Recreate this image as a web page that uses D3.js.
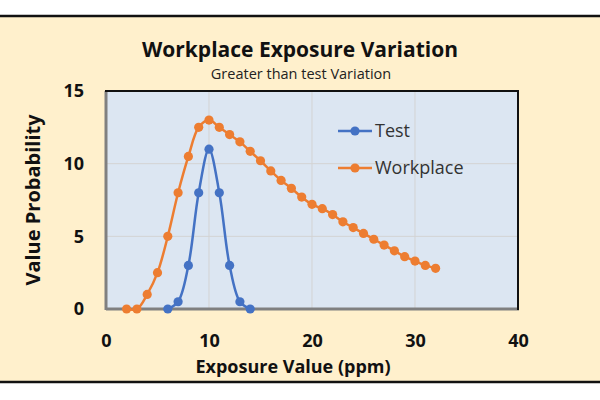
<!DOCTYPE html>
<html>
<head>
<meta charset="utf-8">
<script src="https://cdn.jsdelivr.net/npm/d3@7"></script>
<style>
  html, body { margin: 0; padding: 0; background: #fff; }
  svg { display: block; font-family: "Open Sans", "Noto Sans", sans-serif; }
</style>
</head>
<body>
<svg id="chart" width="600" height="400"></svg>
<script>
// data
const testX = [6, 7, 8, 9, 10, 11, 12, 13, 14];
const testY = [0, 0.5, 3, 8, 11, 8, 3, 0.5, 0];

const workX = [2, 3, 4, 5, 6, 7, 8, 9, 10, 11, 12, 13, 14, 15, 16, 17, 18, 19, 20,
  21, 22, 23, 24, 25, 26, 27, 28, 29, 30, 31, 32];
const workY = [0, 0, 1, 2.5, 5, 8, 10.5, 12.5, 13, 12.5, 12, 11.5, 10.85, 10.2, 9.5, 8.85,
  8.3, 7.7, 7.2, 6.9, 6.5, 6.0, 5.6, 5.2, 4.8, 4.4, 4.0, 3.6, 3.3, 3.0, 2.8];

const xTicks = [0, 10, 20, 30, 40];
const yTicks = [0, 5, 10, 15];

const seriesNames = ['Test', 'Workplace'];
const seriesColors = ['#4472C4', '#ED7D31'];

const svg = d3.select('#chart');

/* cream panel with black rules */
svg.append('rect').attr('x', 0).attr('y', 16).attr('width', 600).attr('height', 366).attr('fill', '#FFF0CC');
svg.append('line').attr('x1', 0).attr('x2', 600).attr('y1', 16).attr('y2', 16).attr('stroke', '#111').attr('stroke-width', 2.5);
svg.append('line').attr('x1', 0).attr('x2', 600).attr('y1', 382).attr('y2', 382).attr('stroke', '#111').attr('stroke-width', 2.5);

const plotLeft = 106, plotRight = 518, plotTop = 91, plotBottom = 309;

const x = d3.scaleLinear().domain([0, 40]).range([plotLeft, plotRight]);
const y = d3.scaleLinear().domain([0, 15]).range([plotBottom, plotTop]);

/* plot area */
svg.append('rect')
  .attr('x', plotLeft).attr('y', plotTop)
  .attr('width', plotRight - plotLeft).attr('height', plotBottom - plotTop)
  .attr('fill', '#DCE6F2');

/* gridlines */
svg.append('g')
  .selectAll('line')
  .data(xTicks.slice(1, -1))
  .join('line')
  .attr('x1', d => x(d)).attr('x2', d => x(d))
  .attr('y1', plotTop).attr('y2', plotBottom)
  .attr('stroke', '#D3D3D3').attr('stroke-width', 1);

svg.append('g')
  .selectAll('line')
  .data(yTicks.slice(1, -1))
  .join('line')
  .attr('x1', plotLeft).attr('x2', plotRight)
  .attr('y1', d => y(d)).attr('y2', d => y(d))
  .attr('stroke', '#D3D3D3').attr('stroke-width', 1);

/* frame: gray left/bottom, black top/right */
svg.append('line').attr('x1', plotLeft).attr('x2', plotLeft).attr('y1', plotTop).attr('y2', plotBottom + 1)
  .attr('stroke', '#808080').attr('stroke-width', 3);
svg.append('line').attr('x1', plotLeft).attr('x2', plotRight + 1).attr('y1', plotBottom).attr('y2', plotBottom)
  .attr('stroke', '#808080').attr('stroke-width', 3);
svg.append('line').attr('x1', plotLeft - 1).attr('x2', plotRight + 1).attr('y1', plotTop).attr('y2', plotTop)
  .attr('stroke', '#111').attr('stroke-width', 2);
svg.append('line').attr('x1', plotRight).attr('x2', plotRight).attr('y1', plotTop).attr('y2', plotBottom + 1)
  .attr('stroke', '#111').attr('stroke-width', 2);

/* axes */
const xAxis = d3.axisBottom(x).tickValues(xTicks).tickSize(0).tickPadding(25);
const yAxis = d3.axisLeft(y).tickValues(yTicks).tickSize(0).tickPadding(22);

const gx = svg.append('g').attr('transform', `translate(0,${plotBottom})`).call(xAxis);
const gy = svg.append('g').attr('transform', `translate(${plotLeft},0)`).call(yAxis);
[gx, gy].forEach(g => {
  g.select('.domain').remove();
  g.selectAll('text')
    .attr('font-family', '"Open Sans", sans-serif')
    .attr('font-size', 18)
    .attr('font-weight', 'bold')
    .attr('fill', '#111');
});

/* series */
const line = d3.line()
  .x(d => x(d[0]))
  .y(d => y(d[1]))
  .curve(d3.curveCatmullRom.alpha(0.5));

const series = [
  d3.zip(testX, testY),
  d3.zip(workX, workY)
];

series.forEach((pts, i) => {
  const g = svg.append('g');
  g.append('path')
    .datum(pts)
    .attr('d', line)
    .attr('fill', 'none')
    .attr('stroke', seriesColors[i])
    .attr('stroke-width', 2.5);
  g.selectAll('circle')
    .data(pts)
    .join('circle')
    .attr('cx', d => x(d[0]))
    .attr('cy', d => y(d[1]))
    .attr('r', 4.6)
    .attr('fill', seriesColors[i]);
});

/* legend */
const legend = svg.append('g').attr('transform', 'translate(338,131)');
seriesNames.forEach((name, i) => {
  const row = legend.append('g').attr('transform', `translate(0,${i * 37})`);
  row.append('line').attr('x1', 0).attr('x2', 34).attr('y1', 0).attr('y2', 0)
    .attr('stroke', seriesColors[i]).attr('stroke-width', 2.5);
  row.append('circle').attr('cx', 17).attr('cy', 0).attr('r', 4.6).attr('fill', seriesColors[i]);
  row.append('text').attr('x', 37).attr('y', 0).attr('dy', '0.35em')
    .attr('font-size', 18).attr('fill', '#333').text(name);
});

/* titles */
svg.append('text').attr('x', 300).attr('y', 57).attr('text-anchor', 'middle')
  .attr('font-size', 21).attr('font-weight', 'bold').attr('fill', '#111')
  .text('Workplace Exposure Variation');
svg.append('text').attr('x', 301).attr('y', 79).attr('text-anchor', 'middle')
  .attr('font-size', 14.5).attr('fill', '#222')
  .text('Greater than test Variation');

svg.append('text').attr('x', 293).attr('y', 373).attr('text-anchor', 'middle')
  .attr('font-size', 18).attr('font-weight', 'bold').attr('fill', '#111')
  .text('Exposure Value (ppm)');

svg.append('text')
  .attr('transform', 'translate(40,200) rotate(-90)')
  .attr('text-anchor', 'middle')
  .attr('font-size', 20).attr('font-weight', 'bold').attr('fill', '#111')
  .text('Value Probability');
</script>
</body>
</html>
